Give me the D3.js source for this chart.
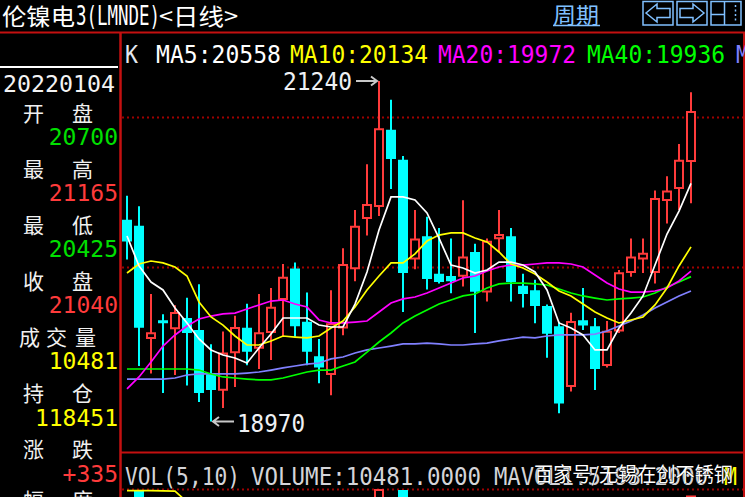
<!DOCTYPE html>
<html><head><meta charset="utf-8">
<script src="https://cdn.jsdelivr.net/npm/d3@7/dist/d3.min.js"></script>
<style>html,body{margin:0;padding:0;background:#000;overflow:hidden}</style>
</head><body>
<svg id="c" width="745" height="497"></svg>
<script>
// ---------- data ----------
const opens  = [20315,20275,19520,19645,19585,19660,19580,19285,19175,19425,19595,19455,19560,19780,19990,19635,19405,19280,19590,19985,20320,20400,20915,20715,20050,20205,19955,19940,19935,20100,19830,20185,20205,19875,19845,19740,19605,19200,19645,19605,19340,19570,19960,20050,19960,20440,20520,20700];
const highs  = [20475,20405,19820,19685,19745,19795,19885,19485,19570,19675,19755,19820,19860,20020,20030,19830,19520,19845,20125,20380,20685,21240,21115,20740,20380,20335,20260,20190,20445,20155,20190,20380,20260,19955,19915,19750,19635,19695,19860,19660,19640,19980,20190,20190,20510,20605,20820,21165];
const lows   = [20050,19340,19290,19160,19280,19210,19100,18970,19060,19200,19345,19320,19380,19535,19535,19345,19225,19145,19545,19905,20210,20340,20520,19700,19985,19850,19890,19825,19870,19560,19770,20100,19770,19730,19625,19395,19025,19170,19580,19180,19330,19560,19935,19960,19890,20290,20380,20425];
const closes = [20170,19595,19565,19625,19700,19560,19160,19180,19430,19600,19435,19565,19735,19935,19605,19435,19330,19625,20020,20275,20420,20925,20720,19960,20190,19920,19900,19905,20070,19835,20175,20220,19900,19820,19740,19555,19090,19640,19610,19320,19575,19965,20070,20095,20460,20510,20715,21040];
const ma5  = [20207,20007,19900,19847,19727,19627,19520,19447,19413,19393,19360,19460,19553,19660,19660,19660,19613,19600,19600,19753,19967,20247,20467,20467,20447,20360,20193,20013,19993,19960,19980,20033,20033,20013,19967,19847,19627,19593,19547,19447,19447,19593,19693,19807,20013,20220,20373,20558];
const ma10 = [19960,20020,20040,20027,20000,19940,19767,19667,19613,19540,19480,19480,19507,19540,19533,19527,19540,19593,19640,19733,19847,19940,20027,20027,20087,20173,20213,20227,20227,20193,20167,20100,20020,19993,19953,19900,19840,19807,19753,19700,19660,19627,19647,19667,19747,19860,20007,20134];
const ma20 = [19187,19267,19367,19473,19547,19607,19653,19673,19687,19693,19720,19747,19773,19780,19753,19733,19647,19627,19627,19633,19640,19700,19760,19787,19800,19827,19860,19893,19927,19940,19973,20000,20013,20013,20020,20027,20027,20020,20000,19947,19893,19853,19833,19833,19840,19860,19907,19972];
const ma40 = [19320,19320,19320,19320,19320,19320,19313,19287,19267,19260,19253,19247,19247,19260,19280,19300,19313,19313,19340,19367,19433,19500,19560,19627,19673,19713,19753,19780,19807,19820,19860,19887,19893,19893,19887,19880,19853,19827,19807,19793,19780,19787,19793,19800,19827,19867,19900,19936];
const ma60 = [19253,19253,19253,19253,19260,19280,19287,19287,19287,19287,19293,19300,19313,19327,19340,19353,19360,19387,19400,19427,19447,19460,19473,19487,19487,19493,19487,19480,19480,19487,19493,19507,19520,19533,19527,19540,19547,19547,19547,19553,19573,19607,19640,19680,19727,19767,19807,19840];
const gridPrices = [20000, 21000];
const maHeader = ["MA5:20558","MA10:20134","MA20:19972","MA40:19936","M"];
const infoLabels = [["开","盘"],["最","高"],["最","低"],["收","盘"],["成","交","量"],["持","仓"],["涨","跌"],["幅","度"]];
const infoValues = ["20700","21165","20425","21040","10481","118451","+335"];
const infoDate = "20220104";
const volIdx = [1, 21, 23, 47];
const volVal = [14300, 15000, 14300, 10481];
const volMa = [13900, 13900, 13800, 13700, 13500, 6000];
const hiLabel = "21240", loLabel = "18970";

// ---------- style ----------
const RED = "#ff3b3b", CYAN = "#00ffff", FRAME = "#c41010";
const MONO = "'DejaVu Sans Mono', monospace", CJK = "'Noto Sans CJK SC', sans-serif";
const maColors = ["#ffffff","#ffff00","#ff00ff","#00ff00","#8080ff"];

const svg = d3.select("#c");
svg.append("rect").attr("width",745).attr("height",497).attr("fill","#000");

const x = d3.scaleLinear().domain([0, opens.length-1]).range([127, 691]);
const y = d3.scaleLinear().domain([18970, 21240]).range([421.5, 81]);
const yv = d3.scaleLinear().domain([0, 15000]).range([510.5, 489]);

const defs = svg.append("defs");
defs.append("clipPath").attr("id","clipK").append("rect").attr("x",122).attr("y",68).attr("width",621).attr("height",383);
defs.append("clipPath").attr("id","clipV").append("rect").attr("x",122).attr("y",454).attr("width",621).attr("height",43);

// ---------- title bar ----------
svg.append("text").attr("x",2).attr("y",25).attr("fill","#fff").attr("font-family",CJK).attr("font-size",23)
  .attr("textLength",73).attr("lengthAdjust","spacingAndGlyphs").text("伦镍电");
svg.append("text").attr("x",76).attr("y",25).attr("fill","#fff").attr("font-family",MONO).attr("font-size",26)
  .attr("textLength",84).attr("lengthAdjust","spacingAndGlyphs").text("3(LMNDE)");
svg.append("text").attr("x",159).attr("y",25).attr("fill","#fff").attr("font-family",CJK).attr("font-size",23)
  .attr("textLength",79).attr("lengthAdjust","spacingAndGlyphs").text("<日线>");

const LB = "#80c0ff";
svg.append("text").attr("x",553).attr("y",23).attr("fill",LB).attr("font-family",CJK).attr("font-size",22)
  .attr("textLength",46).attr("lengthAdjust","spacingAndGlyphs").text("周期");
svg.append("line").attr("x1",553).attr("x2",600).attr("y1",25.5).attr("y2",25.5).attr("stroke",LB).attr("stroke-width",1.5);
const btn = svg.append("g").attr("fill","none").attr("stroke",LB).attr("stroke-width",1.5);
[[643,673],[677,707],[711,741]].forEach(b=>btn.append("rect").attr("x",b[0]).attr("y",1.5).attr("width",b[1]-b[0]).attr("height",23.5));
btn.append("path").attr("d","M646,13 L657,4 L657,8.5 L670,8.5 L670,17.5 L657,17.5 L657,22 Z");
btn.append("path").attr("d","M704,13 L693,4 L693,8.5 L680,8.5 L680,17.5 L693,17.5 L693,22 Z");
btn.append("path").attr("d","M711,14.5 L724,14.5 M724.5,2 L724.5,25");
btn.append("path").attr("d","M735.5,5 L735.5,22").attr("stroke-dasharray","2,2.5");

// ---------- frame ----------
svg.append("line").attr("x1",0).attr("x2",745).attr("y1",32.5).attr("y2",32.5).attr("stroke",FRAME).attr("stroke-width",2);
svg.append("line").attr("x1",120.5).attr("x2",120.5).attr("y1",33).attr("y2",497).attr("stroke",FRAME).attr("stroke-width",2.5);
svg.append("line").attr("x1",744).attr("x2",744).attr("y1",33).attr("y2",497).attr("stroke",FRAME).attr("stroke-width",2);
svg.append("line").attr("x1",121).attr("x2",745).attr("y1",452.5).attr("y2",452.5).attr("stroke",FRAME).attr("stroke-width",2);
svg.append("line").attr("x1",0).attr("x2",118).attr("y1",67).attr("y2",67).attr("stroke","#fff").attr("stroke-width",2);

// ---------- left info panel ----------
svg.append("text").attr("x",3).attr("y",92).attr("fill","#f4f4f4").attr("font-family",MONO).attr("font-size",23)
  .attr("textLength",112).attr("lengthAdjust","spacingAndGlyphs").text(infoDate);
const valColors = ["#00e000", RED, "#00e000", RED, "#ffff00", "#ffff00", RED];
infoLabels.forEach((chars,k)=>{
  const by = k < 7 ? 120.5 + 56.15*k : 508;
  const xs = chars.length === 2 ? [23, 72] : [19, 46, 75];
  chars.forEach((ch,j)=>{
    svg.append("text").attr("x",xs[j]).attr("y",by).attr("fill","#f0f0f0").attr("font-family",CJK).attr("font-size",21).text(ch);
  });
});
infoValues.forEach((v,k)=>{
  svg.append("text").attr("x",118).attr("y",145 + 56.1*k).attr("text-anchor","end").attr("fill",valColors[k])
    .attr("font-family",MONO).attr("font-size",23).text(v);
});

// ---------- header ----------
svg.append("text").attr("x",125).attr("y",63).attr("fill","#e4e8f0").attr("font-family",MONO).attr("font-size",25)
  .attr("textLength",13).attr("lengthAdjust","spacingAndGlyphs").text("K");
const hx = [156, 290, 438, 587, 736], hw = [125, 138, 138, 138, 13];
maHeader.forEach((t,i)=>{
  svg.append("text").attr("x",hx[i]).attr("y",63).attr("fill",maColors[i]).attr("font-family",MONO).attr("font-size",25)
    .attr("textLength",hw[i]).attr("lengthAdjust","spacingAndGlyphs").text(t);
});

// ---------- price panel ----------
const gk = svg.append("g").attr("clip-path","url(#clipK)");
const grid = gk.append("g").attr("transform","translate(122,0)")
  .call(d3.axisRight(y).tickValues(gridPrices).tickSize(622).tickFormat(""));
grid.select(".domain").remove();
grid.selectAll(".tick line").attr("stroke","#a00000").attr("stroke-width",2).attr("stroke-dasharray","2,3");

const idx = d3.range(opens.length);
const up = i => closes[i] >= opens[i];
gk.selectAll("line.wick").data(idx).join("line").attr("class","wick")
  .attr("x1",i=>x(i)).attr("x2",i=>x(i)).attr("y1",i=>y(highs[i])).attr("y2",i=>y(lows[i]))
  .attr("stroke",i=>up(i)?RED:CYAN).attr("stroke-width",2);
gk.selectAll("rect.body").data(idx).join("rect").attr("class","body")
  .attr("x",i=>up(i)?x(i)-4:x(i)-5)
  .attr("width",i=>up(i)?8:10)
  .attr("y",i=>up(i)?y(closes[i])+1:y(opens[i]))
  .attr("height",i=>up(i)?Math.max(0.5,y(opens[i])-y(closes[i])-2):Math.max(1.5,y(closes[i])-y(opens[i])))
  .attr("fill",i=>up(i)?"#000":CYAN)
  .attr("stroke",i=>up(i)?RED:"none").attr("stroke-width",2);

const line = d3.line().x((d,i)=>x(i)).y(d=>y(d));
[ma60, ma40, ma20, ma10, ma5].forEach((s,k)=>{
  const col = [maColors[4],maColors[3],maColors[2],maColors[1],maColors[0]][k];
  gk.append("path").attr("d",line(s)).attr("fill","none").attr("stroke",col).attr("stroke-width",1.7);
});

// high / low markers
const iHi = highs.indexOf(d3.max(highs)), iLo = lows.indexOf(d3.min(lows));
const yHi = y(highs[iHi]), yLo = y(lows[iLo]);
svg.append("text").attr("x",283).attr("y",yHi+9).attr("fill","#eef0f4").attr("font-family",MONO).attr("font-size",24)
  .attr("textLength",69).attr("lengthAdjust","spacingAndGlyphs").text(hiLabel);
svg.append("path").attr("d",`M${x(iHi)-23},${yHi} L${x(iHi)-2},${yHi} M${x(iHi)-8},${yHi-4.5} L${x(iHi)-2},${yHi} L${x(iHi)-8},${yHi+4.5}`)
  .attr("fill","none").attr("stroke","#c8c8c8").attr("stroke-width",2);
svg.append("text").attr("x",237).attr("y",yLo+10).attr("fill","#eef0f4").attr("font-family",MONO).attr("font-size",24)
  .attr("textLength",68).attr("lengthAdjust","spacingAndGlyphs").text(loLabel);
svg.append("path").attr("d",`M${x(iLo)+2},${yLo} L${x(iLo)+23},${yLo} M${x(iLo)+8},${yLo-4.5} L${x(iLo)+2},${yLo} L${x(iLo)+8},${yLo+4.5}`)
  .attr("fill","none").attr("stroke","#c8c8c8").attr("stroke-width",2);

// ---------- volume panel ----------
svg.append("text").attr("x",125).attr("y",485).attr("fill","#d4d4d8").attr("font-family",MONO).attr("font-size",25)
  .attr("textLength",115).attr("lengthAdjust","spacingAndGlyphs").text("VOL(5,10)");
svg.append("text").attr("x",251).attr("y",485).attr("fill","#d4d4d8").attr("font-family",MONO).attr("font-size",25)
  .attr("textLength",230).attr("lengthAdjust","spacingAndGlyphs").text("VOLUME:10481.0000");
svg.append("text").attr("x",494).attr("y",485).attr("fill","#d4d4d8").attr("font-family",MONO).attr("font-size",25)
  .attr("textLength",214).attr("lengthAdjust","spacingAndGlyphs").text("MAVOL1:5193.2000");
svg.append("text").attr("x",724).attr("y",485).attr("fill","#ffff00").attr("font-family",MONO).attr("font-size",25)
  .attr("textLength",13).attr("lengthAdjust","spacingAndGlyphs").text("M");
svg.append("text").attr("x",534).attr("y",482).attr("fill","#ffffff").attr("font-family",CJK).attr("font-size",20)
  .attr("stroke","#000").attr("stroke-width",0.6).attr("paint-order","stroke")
  .attr("textLength",199).attr("lengthAdjust","spacingAndGlyphs").text("百家号/无锡在创不锈钢");

const gv = svg.append("g").attr("clip-path","url(#clipV)");
gv.append("line").attr("x1",122).attr("x2",744).attr("y1",489.5).attr("y2",489.5)
  .attr("stroke","#a00000").attr("stroke-width",2).attr("stroke-dasharray","2,3");
volIdx.forEach((i,k)=>{
  const u = up(i);
  gv.append("rect").attr("x",u?x(i)-4:x(i)-5).attr("width",u?8:10)
    .attr("y",u?yv(volVal[k])+1:yv(volVal[k])).attr("height",40)
    .attr("fill",u?"#000":CYAN).attr("stroke",u?RED:"none").attr("stroke-width",2);
});
gv.append("path").attr("d",d3.line().x((d,i)=>x(i)).y(d=>yv(d))(volMa)).attr("fill","none").attr("stroke","#ffff00").attr("stroke-width",1.7);
</script>
</body></html>
